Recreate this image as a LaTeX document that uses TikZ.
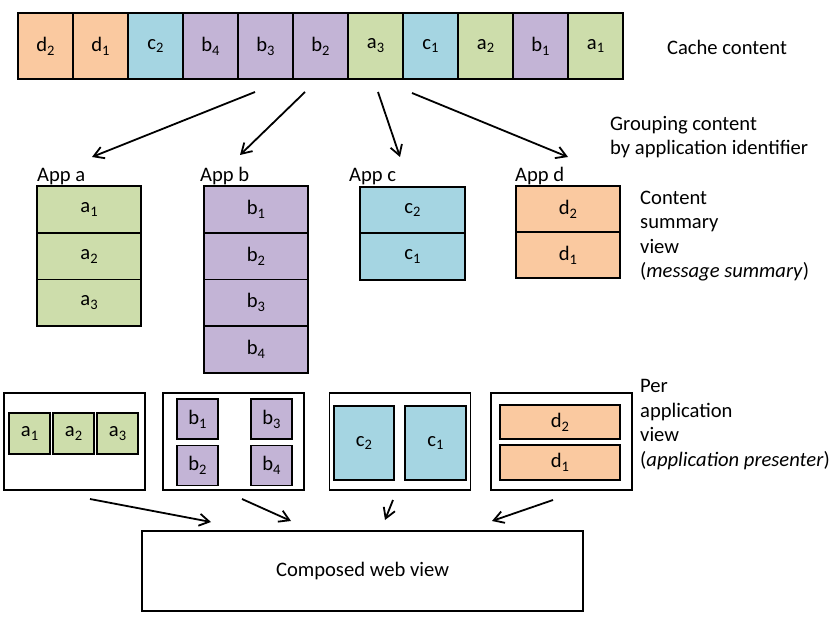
\documentclass[tikz,border=0pt]{standalone}
\usepackage{fontspec}
\setmainfont{Carlito}
\usetikzlibrary{arrows.meta}
\definecolor{appA}{RGB}{205,221,171}
\definecolor{appB}{RGB}{195,180,214}
\definecolor{appC}{RGB}{165,213,226}
\definecolor{appD}{RGB}{250,201,160}
\newcommand{\itm}[2]{#1\raisebox{-0.4ex}{\fontsize{14.5}{14}\selectfont #2}}

\begin{document}
\begin{tikzpicture}[x=1pt, y=-1pt, every node/.style={font=\fontsize{20.6}{24.6}\selectfont, inner sep=0pt},
	>={Straight Barb[length=10pt, width=12pt]},
	cell/.style={draw, line width=1.8pt, minimum width=55, minimum height=66},
	row/.style={draw, line width=1.8pt, minimum width=104, minimum height=46.6},
	panel/.style={draw, line width=1.6pt, minimum width=141, minimum height=97},
	item/.style={draw, line width=1.8pt},
	flow/.style={->, line width=1.8pt}]
	\useasboundingbox (0,0) rectangle (830,623);
	\foreach \l/\s/\c [count=\i] in {d/2/appD, d/1/appD, c/2/appC, b/4/appB, b/3/appB, b/2/appB, a/3/appA, c/1/appC, a/2/appA, b/1/appB, a/1/appA}
		\node[cell, fill=\c] (cache\i) at (55*\i-9.5, 46) {\itm{\l}{\s}};
	\node (lblcache) at (727,47) {Cache content};
	\node[anchor=west, align=left] (lblgroup) at (610,137) {Grouping content\\by application identifier};
	\foreach \s [count=\k] in {1,2,3} \node[row, fill=appA] (sa\s) at (89, 163+46.6*\k) {\itm{a}{\s}};
	\foreach \s [count=\k] in {1,2,3,4} \node[row, fill=appB] (sb\s) at (256, 163+46.6*\k) {\itm{b}{\s}};
	\foreach \s [count=\k] in {2,1} \node[row, fill=appC, minimum width=105] (sc\s) at (412.5, 163.5+46.5*\k) {\itm{c}{\s}};
	\foreach \s [count=\k] in {2,1} \node[row, fill=appD, minimum height=46] (sd\s) at (568, 163+46*\k) {\itm{d}{\s}};
	\node[anchor=base west] (appa) at (37,182) {App a};
	\node[anchor=base west] (appb) at (200,182) {App b};
	\node[anchor=base west] (appc) at (349,182) {App c};
	\node[anchor=base west] (appd) at (515,182) {App d};
	\node[anchor=west, align=left] (lblsummary) at (640,236) {Content\\summary\\view\\(\textit{message summary})};
	\coordinate (ga0) at (255,92); \coordinate (ga1) at (92,157);
	\coordinate (gb0) at (305,92); \coordinate (gb1) at (240,155);
	\coordinate (gc0) at (378,92); \coordinate (gc1) at (400,157);
	\coordinate (gd0) at (412,93); \coordinate (gd1) at (568,157);
	\foreach \g in {a,b,c,d} \draw[flow] (g\g0) -- (g\g1);
	\node[panel] (pana) at (74.5,441.5) {};
	\node[panel] (panb) at (233.5,441.5) {};
	\node[panel] (panc) at (400,441.5) {};
	\node[panel] (pand) at (561.5,441.5) {};
	\foreach \s in {1,2,3} \node[item, fill=appA, minimum size=41] (pa\s) at (44*\s-14.5,433.5) {\itm{a}{\s}};
	\node[item, fill=appB, minimum width=41, minimum height=40] (pb1) at (197.5,419) {\itm{b}{1}};
	\node[item, fill=appB, minimum width=41, minimum height=40] (pb2) at (197.5,465.5) {\itm{b}{2}};
	\node[item, fill=appB, minimum width=41, minimum height=40] (pb3) at (271.5,419) {\itm{b}{3}};
	\node[item, fill=appB, minimum width=41, minimum height=40] (pb4) at (271.5,465.5) {\itm{b}{4}};
	\node[item, fill=appC, minimum width=60, minimum height=74] (pc2) at (364,443) {\itm{c}{2}};
	\node[item, fill=appC, minimum width=61, minimum height=74] (pc1) at (435.5,443) {\itm{c}{1}};
	\node[item, fill=appD, minimum width=120, minimum height=34] (pd2) at (560,422) {\itm{d}{2}};
	\node[item, fill=appD, minimum width=120, minimum height=35] (pd1) at (560,462.5) {\itm{d}{1}};
	\node[anchor=west, align=left] (lblpresenter) at (640,424.5) {Per\\application\\view\\(\textit{application presenter})};
	\node[draw, line width=1.6pt, minimum width=441, minimum height=80] (web) at (362.5,571) {Composed web view};
	\coordinate (wa0) at (90,499); \coordinate (wa1) at (211,522);
	\coordinate (wb0) at (242,499); \coordinate (wb1) at (291,521);
	\coordinate (wc0) at (393,500); \coordinate (wc1) at (385,520);
	\coordinate (wd0) at (553,500); \coordinate (wd1) at (492,521);
	\foreach \g in {a,b,c,d} \draw[flow] (w\g0) -- (w\g1);
\end{tikzpicture}
\end{document}
